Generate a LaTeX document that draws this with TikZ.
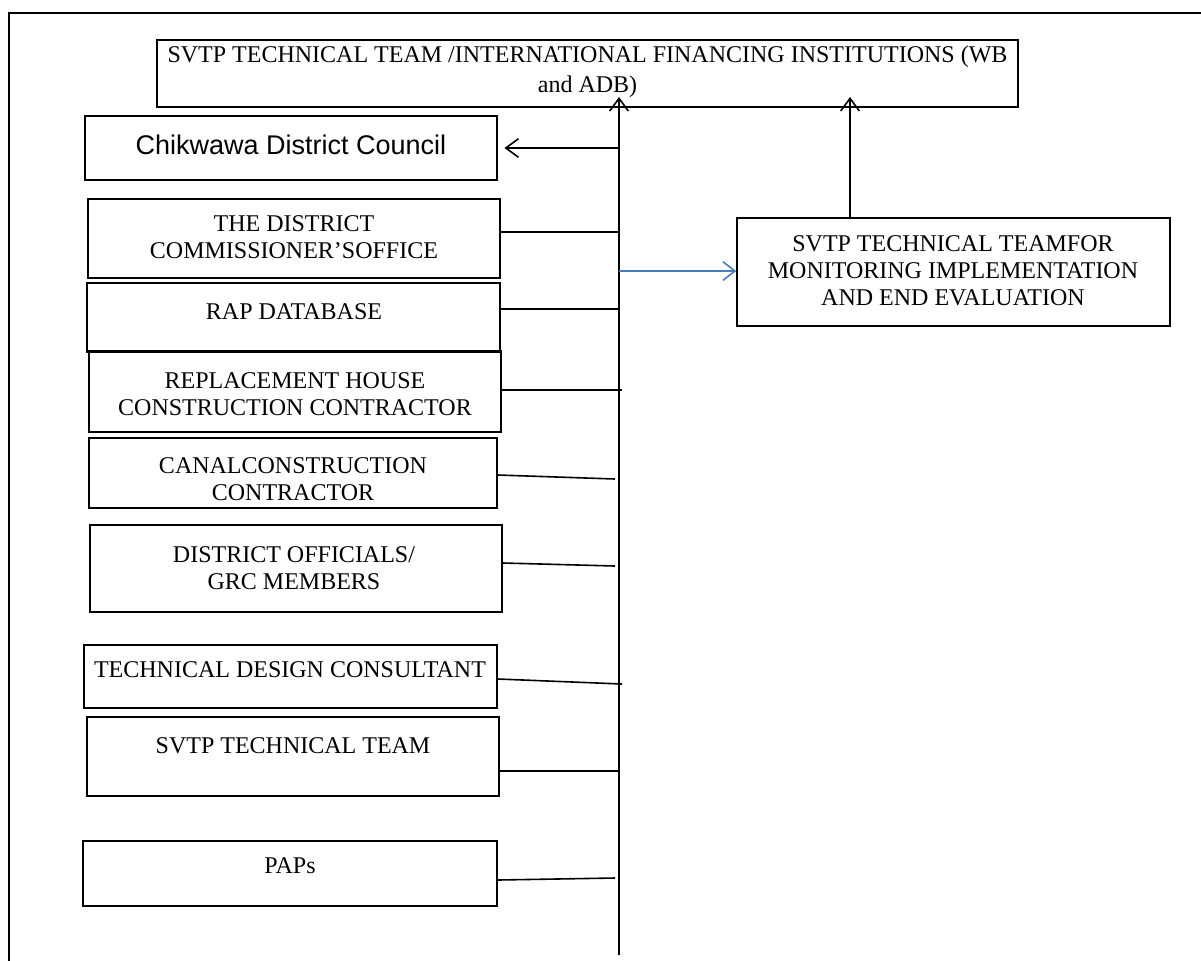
\documentclass[tikz,border=0pt]{standalone}
\usepackage{fontspec}
\setmainfont{Liberation Serif}
\newfontfamily\arialfont{Liberation Sans}
\usetikzlibrary{arrows.meta,calc}
\definecolor{wordblue}{RGB}{74,126,187}
\newcommand\mkbox[5]{\node[box,minimum width={(#4-#2)*0.75pt},minimum height={(#5-#3)*0.75pt}] (#1) at ({(#2+#4)/2},{(#3+#5)/2}) {};}
\begin{document}
\begin{tikzpicture}[x=0.75pt,y=-0.75pt,
  box/.style={draw,line width=1.2pt,inner sep=0pt,rectangle},
  txt/.style={align=center,inner sep=0pt,font=\fontsize{18pt}{20.25pt}\selectfont},
  frameline/.style={line width=1.4pt},
  link/.style={line width=1.2pt},
  arr/.style={line width=1.4pt,-{Straight Barb[length=9.5pt,width=14pt,line width=1.2pt]}},
  bluearr/.style={line width=1.2pt,draw=wordblue,-{Straight Barb[length=9pt,width=14pt,line width=1.2pt]}}]
\useasboundingbox (0,0) rectangle (1201,960);
% outer frame (only top and left visible)
\coordinate (fbl) at (9,975);
\coordinate (ftl) at (9,13);
\coordinate (ftr) at (1215,13);
\draw[frameline] (fbl) -- (ftl) -- (ftr);
% boxes
\mkbox{top}{157}{40}{1018}{107}
\mkbox{ck}{85}{116}{497}{180}
\mkbox{dc}{88}{199}{500}{278}
\mkbox{rap}{87}{283}{500}{352}
\mkbox{rep}{89}{351}{501}{432}
\mkbox{canal}{89}{438}{497}{508}
\mkbox{dof}{90}{525}{502}{612}
\mkbox{tdc}{84}{645}{497}{708}
\mkbox{svtp}{87}{717}{499}{796}
\mkbox{paps}{83}{841}{497}{906}
\mkbox{mon}{737}{218}{1170}{326}
% texts
\node[txt,font=\fontsize{18pt}{22.5pt}\selectfont] (ttop) at (587.5,72) {SVTP TECHNICAL TEAM /INTERNATIONAL FINANCING INSTITUTIONS (WB\\and ADB)};
\node[inner sep=0pt,font=\arialfont\fontsize{20.25pt}{24pt}\selectfont] (tck) at (291,145) {Chikwawa District Council};
\node[txt] (tdc0) at (294,237) {THE DISTRICT\\COMMISSIONER’SOFFICE};
\node[txt] (trap) at (294,312) {RAP DATABASE};
\node[txt] (trep) at (295,394) {REPLACEMENT HOUSE\\CONSTRUCTION CONTRACTOR};
\node[txt] (tcanal) at (293,479) {CANALCONSTRUCTION\\CONTRACTOR};
\node[txt] (tdof) at (294,568) {DISTRICT OFFICIALS/\\GRC MEMBERS};
\node[txt] (ttdc) at (290,670) {TECHNICAL DESIGN CONSULTANT};
\node[txt] (tsvtp) at (293,746) {SVTP TECHNICAL TEAM};
\node[txt] (tpaps) at (290,866) {PAPs};
\node[txt] (tmon) at (953,271) {SVTP TECHNICAL TEAMFOR\\MONITORING IMPLEMENTATION\\AND END EVALUATION};
% spine and junctions
\coordinate (sb) at (619,955);
\coordinate (st) at (619,97);
\coordinate (ut) at (850,97);
\coordinate (jck) at (619,148);
\coordinate (jb) at (619,271);
\coordinate (j1) at (619,232);
\coordinate (j2) at (619,309);
\coordinate (j3) at (622,390);
\coordinate (j4) at (615,479);
\coordinate (j5) at (615,566);
\coordinate (j6) at (622,684);
\coordinate (j7) at (619,771);
\coordinate (j8) at (615,878);
\draw[arr] (sb) -- (st);
\draw[arr] (ut |- mon.north) -- (ut);
\draw[arr,shorten >=5pt] (jck) -- (ck.east);
\draw[bluearr] (jb) -- (mon.west |- jb);
\draw[link] (dc.east |- j1) -- (j1);
\draw[link] (rap.east |- j2) -- (j2);
\draw[link] (rep.east |- j3) -- (j3);
\draw[link] ($(canal.east)+(0,2)$) -- (j4);
\draw[link] ($(dof.east)+(0,-5.5)$) -- (j5);
\draw[link] ($(tdc.east)+(0,2.5)$) -- (j6);
\draw[link] (svtp.east |- j7) -- (j7);
\draw[link] ($(paps.east)+(0,6.5)$) -- (j8);
\end{tikzpicture}
\end{document}
